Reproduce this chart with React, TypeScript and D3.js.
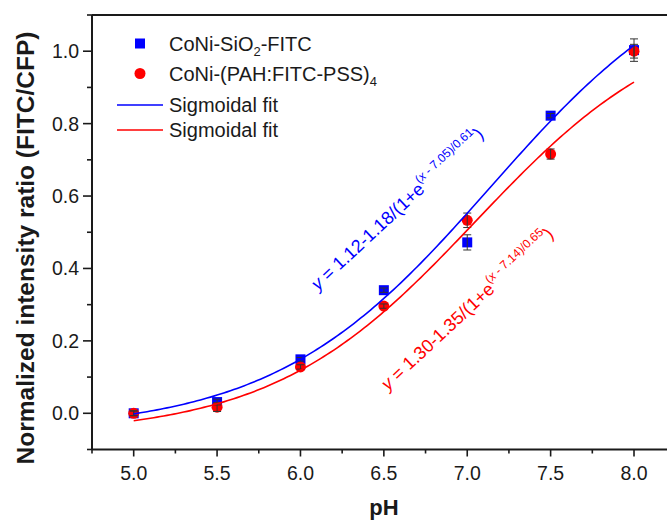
import React from "react";
import * as d3 from "d3";

// pH values and normalized FITC/CFP ratios for both sensor types
const PH = [5.0, 5.5, 6.0, 6.5, 7.0, 7.5, 8.0];
const SIO2_RATIO = [0.0, 0.031, 0.149, 0.34, 0.472, 0.822, 1.003];
const SIO2_ERR = [0.006, 0.008, 0.005, 0.006, 0.021, 0.006, 0.031];
const PAH_RATIO = [0.0, 0.017, 0.128, 0.296, 0.533, 0.716, 1.0];
const PAH_ERR = [0.007, 0.012, 0.006, 0.006, 0.02, 0.014, 0.019];

// Boltzmann fit parameters: [A2, A2 - A1, x0, dx]
const FIT_PARAMS_1 = [1.12, 1.18, 7.05, 0.61];
const FIT_PARAMS_2 = [1.3, 1.35, 7.14, 0.65];

const X_MAJOR = [5.0, 5.5, 6.0, 6.5, 7.0, 7.5, 8.0];
const X_MINOR = [4.75, 5.25, 5.75, 6.25, 6.75, 7.25, 7.75, 8.25];
const Y_MAJOR = [0.0, 0.2, 0.4, 0.6, 0.8, 1.0];
const Y_MINOR = [-0.1, 0.1, 0.3, 0.5, 0.7, 0.9, 1.1];

const SERIES_NAMES = ["CoNi-SiO", "CoNi-(PAH:FITC-PSS)"];
const FIT_NAME = "Sigmoidal fit";

const W = 667;
const H = 522;
const FONT = "'Liberation Sans', Arial, Helvetica, sans-serif";
const BLUE = "#0000ff";
const RED = "#ff0000";
const INK = "#1a1a1a";

const boltzmann = (p: number[]) => (x: number) =>
  p[0] - p[1] / (1 + Math.exp((x - p[2]) / p[3]));

export default function App() {
  const x = d3.scaleLinear().domain([4.75, 8.25]).range([92, 675.7]);
  const y = d3.scaleLinear().domain([-0.1, 1.1]).range([449.5, 15]);

  const fitXs = d3.range(5.0, 8.0001, 0.02);
  const line = d3
    .line<number[]>()
    .x((d) => x(d[0]))
    .y((d) => y(d[1]));
  const blueFit = boltzmann(FIT_PARAMS_2);
  const redFit = boltzmann(FIT_PARAMS_1);
  const bluePath = line(fitXs.map((v) => [v, blueFit(v)])) || "";
  const redPath = line(fitXs.map((v) => [v, redFit(v)])) || "";

  const x0 = x.range()[0];
  const y0 = y.range()[0];
  const yTop = y.range()[1];

  const errBar = (px: number, v: number, e: number, key: string) => {
    const cx = x(px);
    const a = y(v - e);
    const b = y(v + e);
    return (
      <g key={key} stroke="#333" strokeWidth={1}>
        <line x1={cx} x2={cx} y1={a} y2={b} />
        <line x1={cx - 4} x2={cx + 4} y1={a} y2={a} />
        <line x1={cx - 4} x2={cx + 4} y1={b} y2={b} />
      </g>
    );
  };

  return (
    <svg
      width={W}
      height={H}
      style={{ position: "absolute", left: 0, top: 0, background: "#fff" }}
      fontFamily={FONT}
    >
      <rect width={W} height={H} fill="#fff" />

      {/* frame */}
      <g stroke={INK} strokeWidth={2} fill="none">
        <line x1={x0} x2={x.range()[1]} y1={y0} y2={y0} />
        <line x1={x0} x2={x0} y1={yTop} y2={y0} />
        <line x1={x0} x2={x.range()[1]} y1={yTop} y2={yTop} />
      </g>

      {/* ticks */}
      <g stroke={INK} strokeWidth={1.6}>
        {X_MAJOR.map((v) => (
          <line key={"xM" + v} x1={x(v)} x2={x(v)} y1={y0} y2={y0 + 7} />
        ))}
        {X_MINOR.map((v) => (
          <line key={"xm" + v} x1={x(v)} x2={x(v)} y1={y0} y2={y0 + 4} />
        ))}
        {Y_MAJOR.map((v) => (
          <line key={"yM" + v} x1={x0 - 9} x2={x0} y1={y(v)} y2={y(v)} />
        ))}
        {Y_MINOR.map((v) => (
          <line key={"ym" + v} x1={x0 - 5} x2={x0} y1={y(v)} y2={y(v)} />
        ))}
      </g>

      <g fill={INK} fontSize={19.5}>
        {X_MAJOR.map((v) => (
          <text key={"xl" + v} x={x(v)} y={480} textAnchor="middle">
            {d3.format(".1f")(v)}
          </text>
        ))}
        {Y_MAJOR.map((v) => (
          <text key={"yl" + v} x={79} y={y(v) + 7} textAnchor="end">
            {d3.format(".1f")(v)}
          </text>
        ))}
      </g>

      {/* axis titles */}
      <text x={384} y={515} textAnchor="middle" fontSize={22} fontWeight="bold" fill={INK}>
        pH
      </text>
      <text
        transform={`translate(34,248) rotate(-90)`}
        textAnchor="middle"
        fontSize={24.5}
        fontWeight="bold"
        fill={INK}
      >
        Normalized intensity ratio (FITC/CFP)
      </text>

      {/* markers */}
      <g fill={BLUE}>
        {PH.map((p, i) => (
          <rect key={"sq" + i} x={x(p) - 5} y={y(SIO2_RATIO[i]) - 5} width={10} height={10} />
        ))}
      </g>
      <g fill={RED}>
        {PH.map((p, i) => (
          <circle key={"ci" + i} cx={x(p)} cy={y(PAH_RATIO[i])} r={5.5} />
        ))}
      </g>
      {PH.map((p, i) => errBar(p, SIO2_RATIO[i], SIO2_ERR[i], "eb" + i))}
      {PH.map((p, i) => errBar(p, PAH_RATIO[i], PAH_ERR[i], "er" + i))}

      {/* fitted curves */}
      <path d={bluePath} fill="none" stroke={BLUE} strokeWidth={1.6} />
      <path d={redPath} fill="none" stroke={RED} strokeWidth={1.6} />

      {/* legend */}
      <g fontSize={20} fill={INK}>
        <rect x={135} y={38.5} width={10} height={10} fill={BLUE} />
        <text x={169} y={50.5}>
          {SERIES_NAMES[0]}
          <tspan fontSize={13} dy={5}>2</tspan>
          <tspan dy={-5}>-FITC</tspan>
        </text>
        <circle cx={140} cy={73.5} r={5.5} fill={RED} />
        <text x={169} y={80.5}>
          {SERIES_NAMES[1]}
          <tspan fontSize={13} dy={5}>4</tspan>
        </text>
        <line x1={117} x2={163} y1={105} y2={105} stroke={BLUE} strokeWidth={1.6} />
        <text x={169} y={112}>{FIT_NAME}</text>
        <line x1={117} x2={163} y1={130} y2={130} stroke={RED} strokeWidth={1.6} />
        <text x={169} y={137}>{FIT_NAME}</text>
      </g>

      {/* fit equations */}
      <text transform="translate(318,291) rotate(-43)" fontSize={18} fill={BLUE}>
        <tspan fontStyle="italic">y</tspan>
        {` = ${FIT_PARAMS_1[0].toFixed(2)}-${FIT_PARAMS_1[1].toFixed(2)}/(1+e`}
        <tspan fontSize={12} dy={-9}>
          (<tspan fontStyle="italic">x</tspan>
          {` - ${FIT_PARAMS_1[2].toFixed(2)})/${FIT_PARAMS_1[3].toFixed(2)}`}
        </tspan>
        <tspan dy={9}>)</tspan>
      </text>
      <text transform="translate(388,391) rotate(-43)" fontSize={18} fill={RED}>
        <tspan fontStyle="italic">y</tspan>
        {` = ${FIT_PARAMS_2[0].toFixed(2)}-${FIT_PARAMS_2[1].toFixed(2)}/(1+e`}
        <tspan fontSize={12} dy={-9}>
          (<tspan fontStyle="italic">x</tspan>
          {` - ${FIT_PARAMS_2[2].toFixed(2)})/${FIT_PARAMS_2[3].toFixed(2)}`}
        </tspan>
        <tspan dy={9}>)</tspan>
      </text>
    </svg>
  );
}
